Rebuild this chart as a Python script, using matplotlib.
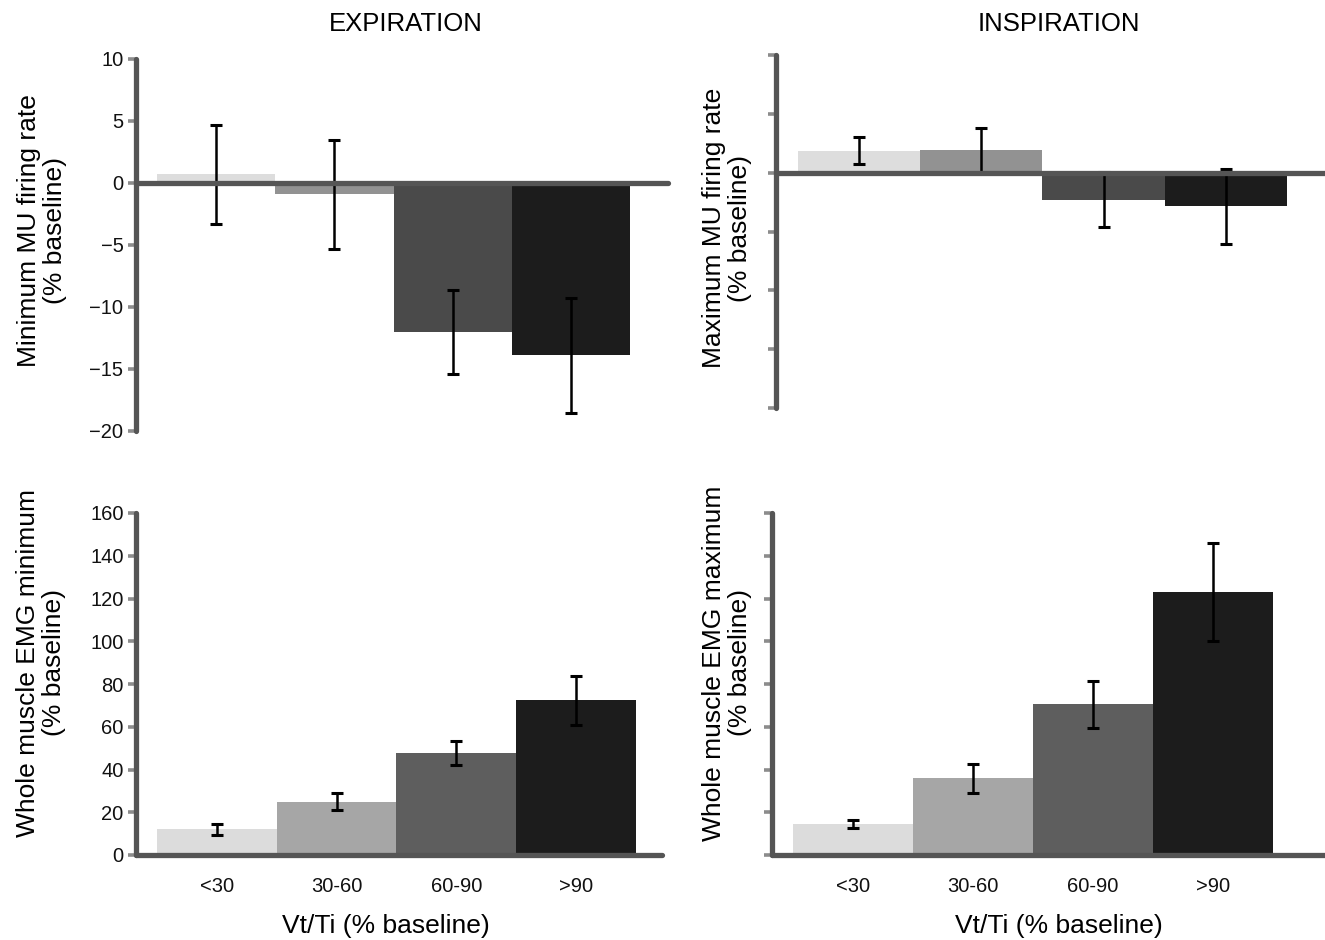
import matplotlib
matplotlib.use("Agg")
import matplotlib.pyplot as plt
import numpy as np

plt.rcParams['font.family'] = ['Liberation Sans', 'DejaVu Sans']

# data
groups = ["<30", "30-60", "60-90", ">90"]

min_mu_rate = [0.7, -0.9, -12.0, -13.9]
min_mu_err = [4.0, 4.4, 3.4, 4.65]

max_mu_rate = [1.85, 1.9, -2.3, -2.85]
max_mu_err = [1.15, 1.9, 2.35, 3.2]

emg_min = [12.0, 25.0, 47.8, 72.3]
emg_min_err = [2.7, 3.9, 5.7, 11.5]

emg_max = [14.5, 36.0, 70.6, 123.0]
emg_max_err = [2.1, 6.8, 11.0, 23.0]

top_colors = ["#dddddd", "#929292", "#4a4a4a", "#1c1c1c"]
bottom_colors = ["#dcdcdc", "#a6a6a6", "#5e5e5e", "#1c1c1c"]

W, H = 1325, 940
fig = plt.figure(figsize=(W / 100, H / 100), dpi=100)


def add_axes(left, right, top, bottom):
    return fig.add_axes([left / W, 1 - bottom / H, (right - left) / W, (bottom - top) / H])


def draw_panel(ax, values, errors, colors, ylim, yticks, xlim, show_yticklabels, show_xticklabels):
    x = np.arange(len(values))
    ax.bar(x, values, width=1.0, color=colors, edgecolor="none")
    ax.errorbar(x, values, yerr=errors, fmt="none", ecolor="black",
                elinewidth=1.8, capsize=4.2, capthick=2.2)
    ax.set_xlim(xlim)
    ax.set_ylim(ylim)
    ax.set_yticks(yticks)
    if not show_yticklabels:
        ax.set_yticklabels([])
    else:
        ax.set_yticklabels(["\u2212%g" % -t if t < 0 else "%g" % t for t in yticks])

    for s in ["top", "right"]:
        ax.spines[s].set_visible(False)
    ax.spines["bottom"].set_position(("data", 0))
    for s in ["left", "bottom"]:
        ax.spines[s].set_linewidth(3.8)
        ax.spines[s].set_color("#555555")
        ax.spines[s].set_capstyle("round")

    ax.tick_params(axis="y", length=5.5, width=2.6, color="#8c8c8c",
                   labelsize=14.5, pad=3.5, labelcolor="#111111")
    ax.set_xticks(x)
    if show_xticklabels:
        ax.set_xticklabels(groups)
        ax.tick_params(axis="x", length=0, labelsize=14.5, pad=16, labelcolor="#111111")
    else:
        ax.tick_params(axis="x", length=0, labelbottom=False)


ax1 = add_axes(136, 668, 59, 431)
draw_panel(ax1, min_mu_rate, min_mu_err, top_colors, (-20, 10),
           [-20, -15, -10, -5, 0, 5, 10], (-0.678, 3.821), True, False)

ax2 = add_axes(776, 1325, 55, 408)
draw_panel(ax2, max_mu_rate, max_mu_err, top_colors, (-20, 10),
           [-20, -15, -10, -5, 0, 5, 10], (-0.68, 3.811), False, False)

ax3 = add_axes(136, 662, 513, 855)
draw_panel(ax3, emg_min, emg_min_err, bottom_colors, (0, 160),
           list(range(0, 161, 20)), (-0.675, 3.717), True, True)

ax4 = add_axes(772, 1325, 513, 855)
draw_panel(ax4, emg_max, emg_max_err, bottom_colors, (0, 160),
           list(range(0, 161, 20)), (-0.675, 3.933), False, True)

# titles, axis labels
fig.text(406 / W, 1 - 24 / H, "EXPIRATION", ha="center", va="center", fontsize=18.5)
fig.text(1059 / W, 1 - 24 / H, "INSPIRATION", ha="center", va="center", fontsize=18.5)

fig.text(386 / W, 1 - 926 / H, "Vt/Ti (% baseline)", ha="center", va="center", fontsize=19)
fig.text(1059 / W, 1 - 926 / H, "Vt/Ti (% baseline)", ha="center", va="center", fontsize=19)

ylabels = [
    (42, 231, "Minimum MU firing rate\n(% baseline)"),
    (727, 228, "Maximum MU firing rate\n(% baseline)"),
    (41, 663, "Whole muscle EMG minimum\n(% baseline)"),
    (727, 663, "Whole muscle EMG maximum\n(% baseline)"),
]
for lx, ly, txt in ylabels:
    fig.text(lx / W, 1 - ly / H, txt, ha="center", va="center", rotation=90,
             multialignment="center", fontsize=19, linespacing=1.15)

fig.savefig("out.png", dpi=100)
